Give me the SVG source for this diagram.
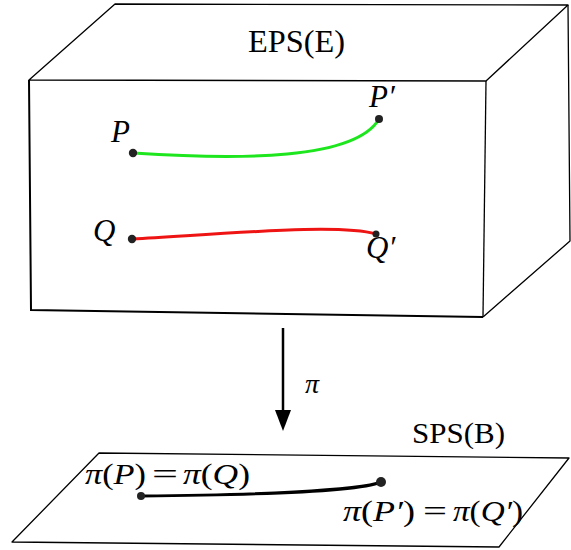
<svg xmlns="http://www.w3.org/2000/svg" width="571" height="550" viewBox="0 0 571 550">
<style>
.edge{fill:none;stroke:#000;stroke-width:1.3;stroke-linejoin:round}
.thick{fill:none;stroke:#000;stroke-width:2}
.dot{fill:#222}
.lbl{font-family:"Liberation Serif",serif;font-size:31px;fill:#000}
.m{font-size:30px}
.it{font-style:italic}
</style>
<rect width="571" height="550" fill="#fff"/>
<g id="box-E">
<path class="edge" d="M29,80 L115,4 L568,5 L486,81 Z"/>
<path class="edge" d="M568,5 L570,241 L483,317"/>
<path class="edge" d="M486,81 L483,317"/>
<path class="thick" d="M29,80 L31,310 L483,317"/>
<text class="lbl" x="248" y="52" textLength="97" lengthAdjust="spacingAndGlyphs">EPS(E)</text>
</g>
<g id="plane-B">
<path class="edge" d="M99,453 L569,458 L499,547 L12,542 Z"/>
<text class="lbl" x="412" y="443" textLength="93" lengthAdjust="spacingAndGlyphs" style="font-size:29px">SPS(B)</text>
</g>
<g id="connectors">
<path d="M133,153 C240,160 355,160 379,119" fill="none" stroke="#1ee61e" stroke-width="3"/>
<path d="M132,239 C250,232 340,224 376,234" fill="none" stroke="#ee1414" stroke-width="3"/>
<path d="M141,496 C250,495 360,491 381,482" fill="none" stroke="#000" stroke-width="3"/>
<line x1="283" y1="328" x2="283" y2="412" stroke="#000" stroke-width="2.5"/>
<path d="M275,410 L283,431 L291,410 Z" fill="#000"/>
</g>
<g id="node-P">
<circle class="dot" cx="133" cy="153" r="4.2"/>
<text class="lbl it" x="111" y="142">P</text>
</g>
<g id="node-P2">
<circle class="dot" cx="379" cy="119" r="4"/>
<text class="lbl it" x="369" y="107">P′</text>
</g>
<g id="node-Q">
<circle class="dot" cx="132" cy="239" r="4.2"/>
<text class="lbl it" x="93" y="241">Q</text>
</g>
<g id="node-Q2">
<circle class="dot" cx="376" cy="234" r="3.5"/>
<text class="lbl it" x="366" y="258">Q′</text>
</g>
<g id="label-pi">
<text class="lbl it" x="305" y="393" style="font-size:28px">π</text>
</g>
<g id="node-piP">
<circle class="dot" cx="141" cy="496" r="4"/>
<text class="lbl m" y="484"><tspan x="85" textLength="61" lengthAdjust="spacingAndGlyphs"><tspan class="it">π</tspan>(<tspan class="it">P</tspan>)</tspan><tspan x="152" textLength="26" lengthAdjust="spacingAndGlyphs">=</tspan><tspan x="183" textLength="67" lengthAdjust="spacingAndGlyphs"><tspan class="it">π</tspan>(<tspan class="it">Q</tspan>)</tspan></text>
</g>
<g id="node-piP2">
<circle class="dot" cx="381" cy="482" r="5"/>
<text class="lbl m" y="521"><tspan x="343" textLength="72" lengthAdjust="spacingAndGlyphs"><tspan class="it">π</tspan>(<tspan class="it">P′</tspan>)</tspan><tspan x="423" textLength="24" lengthAdjust="spacingAndGlyphs">=</tspan><tspan x="453" textLength="70" lengthAdjust="spacingAndGlyphs"><tspan class="it">π</tspan>(<tspan class="it">Q′</tspan>)</tspan></text>
</g>
</svg>
